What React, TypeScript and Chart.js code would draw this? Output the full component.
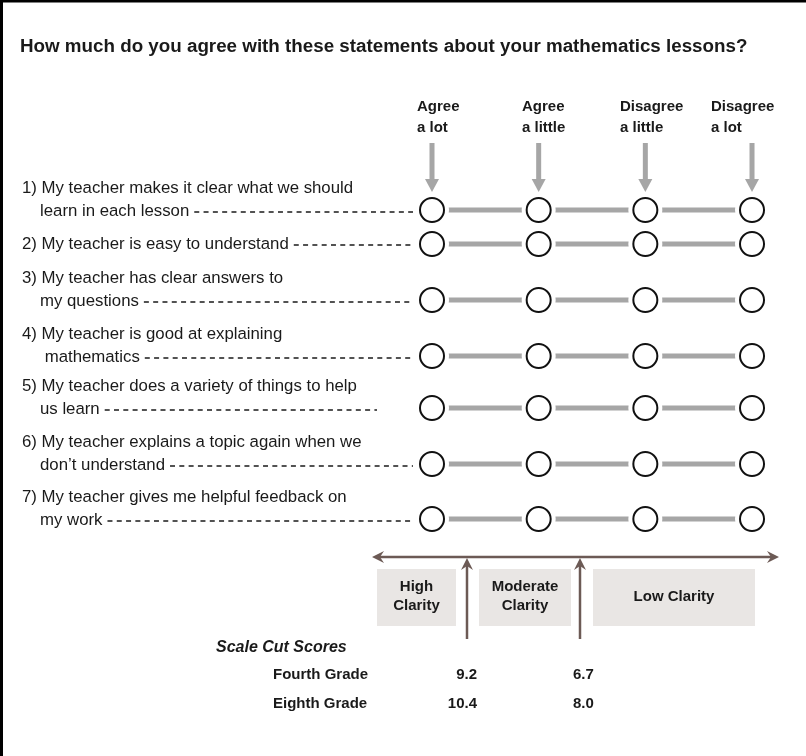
import React, { useEffect, useRef } from 'react';
import { Chart, registerables } from 'chart.js';

Chart.register(...registerables);

// ---------------- data ----------------
const TITLE = 'How much do you agree with these statements about your mathematics lessons?';
const RESPONSES: string[][] = [
  ['Agree', 'a lot'],
  ['Agree', 'a little'],
  ['Disagree', 'a little'],
  ['Disagree', 'a lot'],
];
const STATEMENTS: string[][] = [
  ['1) My teacher makes it clear what we should', 'learn in each lesson'],
  ['2) My teacher is easy to understand'],
  ['3) My teacher has clear answers to', 'my questions'],
  ['4) My teacher is good at explaining', ' mathematics'],
  ['5) My teacher does a variety of things to help', 'us learn'],
  ['6) My teacher explains a topic again when we', 'don\u2019t understand'],
  ['7) My teacher gives me helpful feedback on', 'my work'],
];
const CLARITY_LEVELS: string[][] = [['High', 'Clarity'], ['Moderate', 'Clarity'], ['Low Clarity']];
const CUT_TITLE = 'Scale Cut Scores';
const GRADES = ['Fourth Grade', 'Eighth Grade'];
const CUT_HIGH = [9.2, 10.4];
const CUT_MODERATE = [6.7, 8.0];

// ---------------- layout ----------------
const W = 806;
const H = 756;
const COL_FIRST_X = 432;
const COL_STEP = 106.67;
const X_MIN = -COL_FIRST_X / COL_STEP;
const X_MAX = X_MIN + W / COL_STEP;
const ROW_Y = [210, 244, 300, 356, 408, 464, 519];
const DASH_END = [413, 413, 413, 413, 377, 413, 413];
const HEADER_X = [417, 522, 620, 711];
const FONT = '"Liberation Sans", Arial, sans-serif';
const TEXT = '#1a1a1a';
const GRAY = '#a6a6a6';
const BROWN = '#6c5a55';
const BOX = '#e9e6e4';
const BOXES = [
  [377, 569, 456, 626],
  [479, 569, 571, 626],
  [593, 569, 755, 626],
];
const CUT_ARROW_X = [467, 580];

function arrowHead(ctx: CanvasRenderingContext2D, tx: number, ty: number, dx: number, dy: number) {
  const len = 12, half = 6, notch = 4;
  const px = -dy, py = dx;
  ctx.beginPath();
  ctx.moveTo(tx, ty);
  ctx.lineTo(tx - dx * len + px * half, ty - dy * len + py * half);
  ctx.lineTo(tx - dx * (len - notch), ty - dy * (len - notch));
  ctx.lineTo(tx - dx * len - px * half, ty - dy * len - py * half);
  ctx.closePath();
  ctx.fill();
}

const diagramPlugin = {
  id: 'diagram',
  beforeDatasetsDraw(chart: any) {
    const ctx: CanvasRenderingContext2D = chart.ctx;
    const xs = chart.scales.x;
    const ys = chart.scales.y;
    ctx.save();
    // frame
    ctx.fillStyle = '#000';
    ctx.fillRect(0, 0, 3, H);
    ctx.fillRect(0, 0, W, 2.5);

    // title
    ctx.fillStyle = TEXT;
    ctx.textBaseline = 'middle';
    ctx.textAlign = 'left';
    ctx.font = `bold 18.8px ${FONT}`;
    ctx.fillText(TITLE, 20, 47);

    // headers + gray arrows
    ctx.font = `bold 15px ${FONT}`;
    RESPONSES.forEach((lines, c) => {
      lines.forEach((t, i) => ctx.fillText(t, HEADER_X[c], 107 + i * 21));
      const cx = xs.getPixelForValue(c);
      ctx.fillStyle = GRAY;
      ctx.fillRect(cx - 2.5, 143, 5, 38);
      ctx.beginPath();
      ctx.moveTo(cx - 7, 179);
      ctx.lineTo(cx + 7, 179);
      ctx.lineTo(cx, 192);
      ctx.closePath();
      ctx.fill();
      ctx.fillStyle = TEXT;
    });

    // statements + dashes
    ctx.font = `16.8px ${FONT}`;
    STATEMENTS.forEach((lines, r) => {
      const cy = ys.getPixelForValue(ROW_Y[r]);
      let lastX = 0;
      let lastY = cy;
      lines.forEach((t, i) => {
        const isLast = i === lines.length - 1;
        const y = lines.length === 1 ? cy : (isLast ? cy + 1 : cy - 22);
        const x = i === 0 ? 22 : 40;
        ctx.fillText(t, x, y);
        if (isLast) {
          lastX = x + ctx.measureText(t).width;
          lastY = y;
        }
      });
      ctx.strokeStyle = TEXT;
      ctx.lineWidth = 1.5;
      ctx.setLineDash([5, 4.3]);
      ctx.beginPath();
      ctx.moveTo(lastX + 5, lastY + 1);
      ctx.lineTo(DASH_END[r], lastY + 1);
      ctx.stroke();
      ctx.setLineDash([]);
    });
    ctx.restore();
  },
  afterDatasetsDraw(chart: any) {
    const ctx: CanvasRenderingContext2D = chart.ctx;
    ctx.save();
    ctx.fillStyle = BOX;
    BOXES.forEach(([x0, y0, x1, y1]) => ctx.fillRect(x0, y0, x1 - x0, y1 - y0));
    ctx.fillStyle = TEXT;
    ctx.font = `bold 15px ${FONT}`;
    ctx.textAlign = 'center';
    ctx.textBaseline = 'middle';
    CLARITY_LEVELS.forEach((lines, i) => {
      const [x0, y0, x1, y1] = BOXES[i];
      const cx = (x0 + x1) / 2;
      const cy = (y0 + y1) / 2 - 1;
      lines.forEach((t, j) => ctx.fillText(t, cx, cy + (j - (lines.length - 1) / 2) * 19));
    });

    ctx.strokeStyle = BROWN;
    ctx.fillStyle = BROWN;
    ctx.lineWidth = 2.5;
    ctx.beginPath();
    ctx.moveTo(378, 557);
    ctx.lineTo(773, 557);
    ctx.stroke();
    arrowHead(ctx, 372, 557, -1, 0);
    arrowHead(ctx, 779, 557, 1, 0);
    CUT_ARROW_X.forEach((x) => {
      ctx.beginPath();
      ctx.moveTo(x, 639);
      ctx.lineTo(x, 565);
      ctx.stroke();
      arrowHead(ctx, x, 558, 0, -1);
    });

    ctx.fillStyle = TEXT;
    ctx.textAlign = 'left';
    ctx.font = `italic bold 16px ${FONT}`;
    ctx.fillText(CUT_TITLE, 216, 648);
    ctx.font = `bold 15px ${FONT}`;
    GRADES.forEach((g, i) => {
      const y = 675 + i * 29;
      ctx.textAlign = 'left';
      ctx.fillText(g, 273, y);
      ctx.textAlign = 'right';
      ctx.fillText(CUT_HIGH[i].toFixed(1), 477, y);
      ctx.textAlign = 'left';
      ctx.fillText(CUT_MODERATE[i].toFixed(1), 573, y);
    });
    ctx.restore();
  },
};

export default function App() {
  const ref = useRef<HTMLCanvasElement | null>(null);
  useEffect(() => {
    document.body.style.margin = '0';
    const canvas = ref.current!;
    const points = STATEMENTS.flatMap((_, r) => RESPONSES.map((__, c) => ({ x: c, y: ROW_Y[r] })));
    const connectors = STATEMENTS.map((_, r) => ({
      type: 'line' as const,
      data: RESPONSES.map((__, c) => ({ x: c, y: ROW_Y[r] })),
      borderColor: GRAY,
      borderWidth: 5,
      pointRadius: 0,
      showLine: true,
      fill: false,
      order: 3,
    }));
    const chart = new Chart(canvas, {
      type: 'scatter',
      data: {
        datasets: [
          ...connectors,
          { data: points, pointRadius: 17, backgroundColor: '#ffffff', borderWidth: 0, order: 2 } as any,
          { data: points, pointRadius: 12, backgroundColor: '#ffffff', borderColor: '#111111', borderWidth: 2, order: 1 } as any,
        ],
      },
      options: {
        animation: false,
        responsive: false,
        devicePixelRatio: 1,
        layout: { padding: 0, autoPadding: false },
        events: [],
        scales: {
          x: { type: 'linear', display: false, min: X_MIN, max: X_MAX },
          y: { type: 'linear', display: false, min: 0, max: H, reverse: true },
        },
        plugins: { legend: { display: false }, tooltip: { enabled: false } },
      } as any,
      plugins: [diagramPlugin],
    });
    return () => chart.destroy();
  }, []);
  return (
    <div style={{ position: 'absolute', left: 0, top: 0, width: W, height: H, background: '#fff' }}>
      <canvas ref={ref} width={W} height={H} style={{ display: 'block' }} />
    </div>
  );
}
